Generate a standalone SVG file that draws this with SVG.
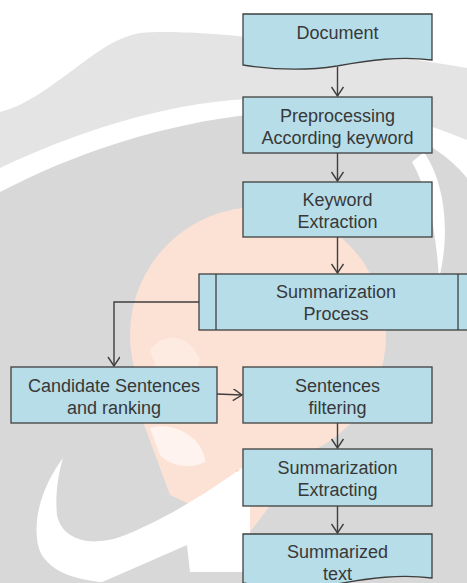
<svg xmlns="http://www.w3.org/2000/svg" width="467" height="583" viewBox="0 0 467 583">
<style>
.node{fill:#b7dde8;stroke:#3f3f3f;stroke-width:1.3}
.lbl{font-family:"Liberation Sans",Arial,sans-serif;font-size:18px;fill:#383838;text-anchor:middle}
.conn{fill:none;stroke:#3f3f3f;stroke-width:1.4}
</style>
<defs>
<marker id="arr" markerWidth="14" markerHeight="14" refX="10" refY="6" orient="auto" markerUnits="userSpaceOnUse">
<path d="M1,0 L10,6 L1,12" fill="none" stroke="#3f3f3f" stroke-width="1.4"/>
</marker>
</defs>
<g id="background">
<rect x="0" y="0" width="467" height="583" fill="#ffffff"/>
<path d="M0,112 C50,100 95,40 140,33 C200,28 330,45 467,68 L467,140 C400,112 330,96 250,99 C160,103 70,135 0,168 Z" fill="#e4e4e4"/>
<path d="M0,192 C80,150 180,118 280,112 C360,108 430,133 467,178 L467,583 L0,583 Z" fill="#d8d8d8"/>
<path d="M424,152 C446,184 450,236 439,278 C436,234 430,194 412,162 Z" fill="#ffffff"/>
<circle cx="258" cy="335" r="128" fill="#fce2d5"/>
<path d="M135,400 L170,495 L250,532 L320,440 Z" fill="#fce2d5"/>
<path d="M236,470 L250,470 L250,530 L236,528 Z" fill="#f8c4a6"/>
<path d="M150,350 C165,330 190,335 200,360 C195,380 170,390 160,380 Z" fill="#ffffff" opacity="0.3"/>
<path d="M150,428 C175,420 205,440 205,462 C190,470 168,465 160,455 Z" fill="#ffffff" opacity="0.6"/>
<path d="M63,458 C45,482 32,515 38,545 C44,572 80,583 120,583 L250,583 L250,462 C205,495 160,522 120,537 C90,547 62,540 57,515 C55,495 58,475 63,458 Z" fill="#ffffff"/>
<path d="M100,583 L187,545 L190,572 L250,572 L250,583 Z" fill="#d8d8d8"/>
</g>
<g id="connectors">
<line class="conn" x1="337.5" y1="67" x2="337.5" y2="96" marker-end="url(#arr)"/>
<line class="conn" x1="337.5" y1="153" x2="337.5" y2="181" marker-end="url(#arr)"/>
<line class="conn" x1="337.5" y1="237" x2="337.5" y2="273" marker-end="url(#arr)"/>
<path class="conn" d="M199,302 H114 V366" marker-end="url(#arr)"/>
<line class="conn" x1="217" y1="394" x2="242" y2="395" marker-end="url(#arr)"/>
<line class="conn" x1="337.5" y1="423" x2="337.5" y2="448" marker-end="url(#arr)"/>
<line class="conn" x1="337.5" y1="506" x2="337.5" y2="533" marker-end="url(#arr)"/>
</g>
<g id="document">
<path class="node" d="M243,14 H432 V60 C400,56 370,60 337,66 C305,71 275,70 243,65 Z"/>
<text class="lbl" x="337.5" y="39">Document</text>
</g>
<g id="preprocessing">
<rect class="node" x="243" y="97" width="189" height="56"/>
<text class="lbl" x="337.5" y="122">Preprocessing</text>
<text class="lbl" x="337.5" y="144">According keyword</text>
</g>
<g id="keyword-extraction">
<rect class="node" x="243" y="182" width="189" height="55"/>
<text class="lbl" x="337.5" y="206">Keyword</text>
<text class="lbl" x="337.5" y="228">Extraction</text>
</g>
<g id="summarization-process">
<rect class="node" x="199" y="274" width="272" height="56"/>
<line class="node" x1="216" y1="274" x2="216" y2="330"/>
<line class="node" x1="458" y1="274" x2="458" y2="330"/>
<text class="lbl" x="336" y="298">Summarization</text>
<text class="lbl" x="336" y="320">Process</text>
</g>
<g id="candidate-sentences">
<rect class="node" x="11" y="367" width="206" height="56"/>
<text class="lbl" x="114" y="392">Candidate Sentences</text>
<text class="lbl" x="114" y="414">and ranking</text>
</g>
<g id="sentences-filtering">
<rect class="node" x="243" y="367" width="189" height="56"/>
<text class="lbl" x="337.5" y="392">Sentences</text>
<text class="lbl" x="337.5" y="414">filtering</text>
</g>
<g id="summarization-extracting">
<rect class="node" x="243" y="449" width="189" height="57"/>
<text class="lbl" x="337.5" y="474">Summarization</text>
<text class="lbl" x="337.5" y="496">Extracting</text>
</g>
<g id="summarized-text">
<path class="node" d="M243,534 H432 V578 C400,574 370,578 337,584 C305,589 275,588 243,583 Z"/>
<text class="lbl" x="337.5" y="558">Summarized</text>
<text class="lbl" x="337.5" y="580">text</text>
</g>
</svg>
